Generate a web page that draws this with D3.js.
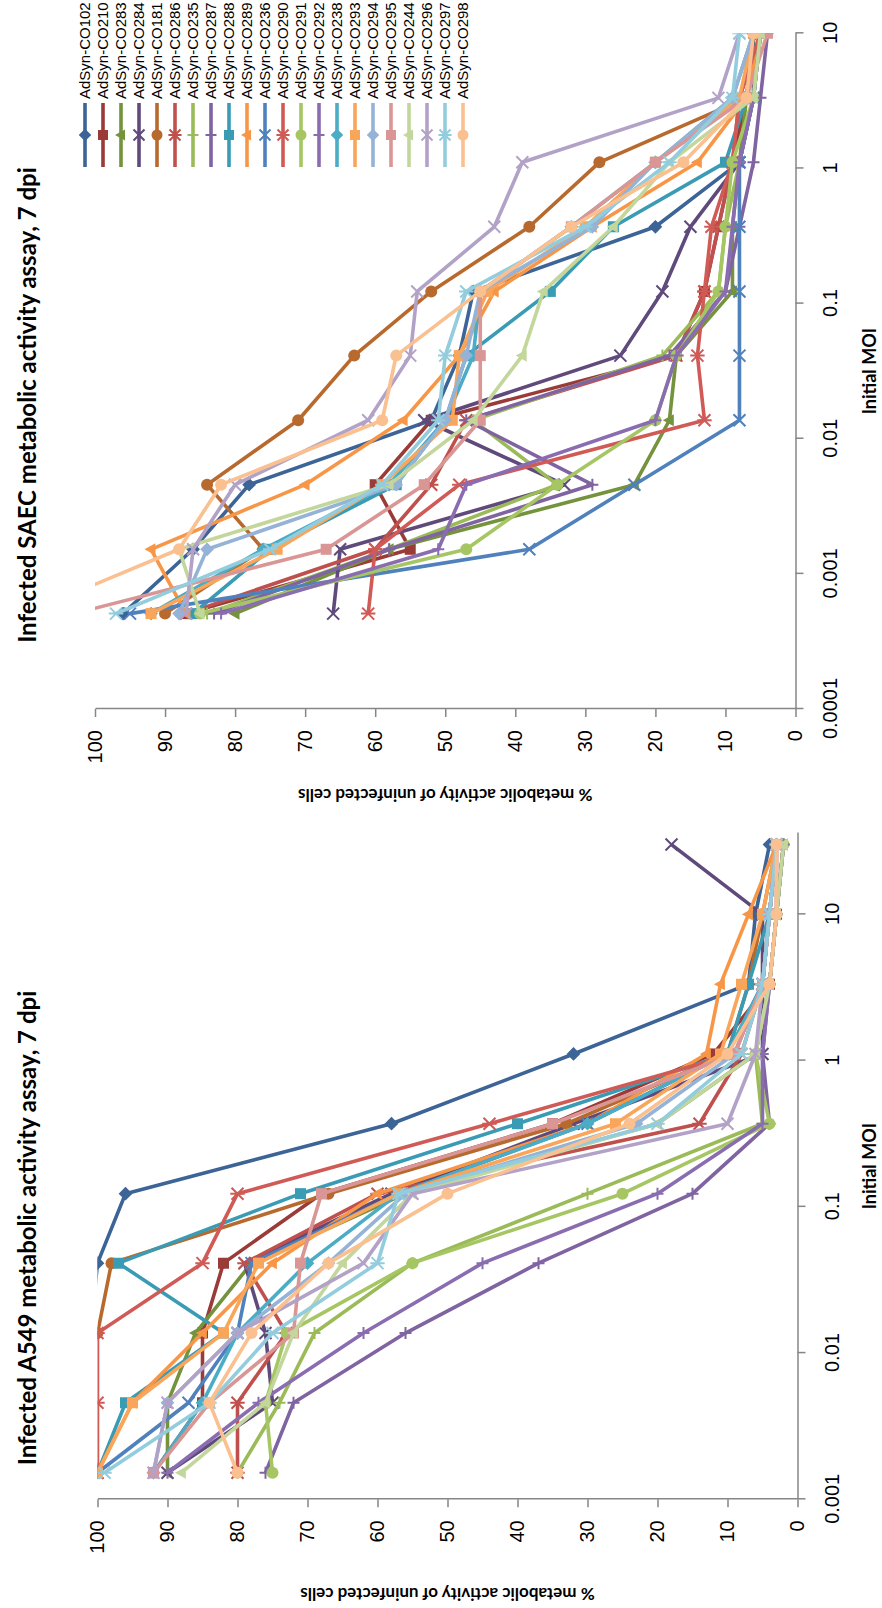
<!DOCTYPE html>
<html>
<head>
<meta charset="utf-8">
<script src="https://cdn.jsdelivr.net/npm/d3@7"></script>
<style>
  body { margin: 0; background: #fff; }
  svg { display: block; }
</style>
</head>
<body>
<svg id="chart" width="882" height="1608"></svg>
<script>
/* ============================================================
   DATA
============================================================ */
const seriesNames = [
  "AdSyn-CO102","AdSyn-CO210","AdSyn-CO283","AdSyn-CO284","AdSyn-CO181","AdSyn-CO286",
  "AdSyn-CO235","AdSyn-CO287","AdSyn-CO288","AdSyn-CO289","AdSyn-CO236","AdSyn-CO290",
  "AdSyn-CO291","AdSyn-CO292","AdSyn-CO238","AdSyn-CO293","AdSyn-CO294","AdSyn-CO295",
  "AdSyn-CO244","AdSyn-CO296","AdSyn-CO297","AdSyn-CO298"
];
const seriesColors = [
  "#3C6496","#9A3B38","#75923C","#5F4A7B","#B86A2E","#C0504D",
  "#9BBB59","#8064A2","#3A9BB5","#F79646","#4F81BD","#D05A56",
  "#A5C663","#8A6DB0","#4BACC6","#F9A55A","#95B3D7","#D99694",
  "#C3D69B","#B3A2C7","#93CDDD","#FAC090"
];
const seriesMarkers = [
  "diamond","square","triangle","x","circle","star",
  "plus","plus","square","triangle","x","star",
  "circle","plus","diamond","square","diamond","square",
  "triangle","x","star","circle"
];

// MOI used in each assay (high to low)
const saecMoi = [10, 3.33, 1.11, 0.37, 0.123, 0.0412, 0.0137, 0.00457, 0.00152, 0.000508];
const a549Moi = [30, 10, 3.33, 1.11, 0.37, 0.123, 0.0412, 0.0137, 0.00457, 0.00152];

// % metabolic activity, one row per series (same order as seriesNames)
const saecValues = [
  [6, 6, 8, 20, 46, 48, 52, 78, 86, 96],
  [6, 7, 9, 11, 13, 17, 52, 60, 55, 87],
  [6, 7, 8, 9, 9, 17, 18, 23, 58, 80],
  [5, 6, 8, 15, 19, 25, 53, 33, 65, 66],
  [5, 7, 28, 38, 52, 63, 71, 84, 76, 90],
  [5, 8, 9, 11, 13, 17, 47, 52, 60, 87],
  [5, 6, 8, 10, 11, 19, 46, 34, 58, 84],
  [4, 5, 6, 8, 10, 18, 47, 29, 58, 83],
  [5, 7, 10, 26, 35, 47, 50, 57, 75, 86],
  [5, 7, 14, 29, 43, 48, 56, 70, 92, 87],
  [5, 6, 8, 8, 8, 8, 8, 23, 38, 95],
  [5, 8, 9, 12, 13, 14, 13, 48, 60, 61],
  [5, 6, 9, 10, 11, 17, 20, 34, 47, 85],
  [5, 6, 8, 9, 10, 17, 20, 47, 51, 82],
  [6, 9, 20, 32, 45, 46, 50, 58, 76, 92],
  [6, 8, 20, 30, 44, 48, 49, 59, 74, 92],
  [6, 9, 20, 29, 45, 47, 50, 57, 84, 88],
  [4, 7, 20, 32, 45, 45, 45, 53, 67, 103],
  [5, 6, 18, 26, 36, 39, 46, 58, 88, 85],
  [8, 11, 39, 43, 54, 55, 61, 80, 86, 87],
  [8, 9, 18, 30, 47, 50, 51, 59, 75, 97],
  [6, 7, 16, 32, 45, 57, 59, 82, 88, 110]
];
const a549Values = [
  [4, 6, 7, 32, 58, 96, 100, 101, 102, 100],
  [3, 3, 4, 12, 35, 68, 82, 85, 85, 92],
  [2, 3, 4, 6, 20, 56, 78, 86, 90, 90],
  [18, 5, 5, 5, 32, 58, 79, 76, 75, 90],
  [3, 5, 7, 10, 33, 67, 98, 100, 103, 104],
  [3, 4, 5, 8, 14, 60, 79, 73, 80, 80],
  [2, 3, 4, 6, 5, 30, 55, 69, 74, 80],
  [2, 3, 4, 5, 4, 15, 37, 56, 72, 76],
  [3, 4, 7, 10, 40, 71, 97, 82, 96, 100],
  [3, 7, 11, 13, 30, 60, 75, 85, 95, 100],
  [3, 4, 5, 10, 30, 57, 78, 80, 87, 100],
  [3, 4, 5, 9, 44, 80, 85, 100, 100, 100],
  [2, 3, 4, 6, 4, 25, 55, 73, 76, 75],
  [2, 3, 4, 5, 5, 20, 45, 62, 77, 90],
  [3, 4, 5, 10, 30, 57, 70, 80, 85, 92],
  [3, 5, 8, 11, 26, 57, 77, 82, 95, 100],
  [3, 4, 5, 9, 23, 56, 67, 80, 90, 92],
  [3, 4, 5, 9, 35, 68, 71, 72, 84, 92],
  [2, 3, 4, 6, 20, 55, 65, 72, 76, 88],
  [3, 4, 5, 6, 10, 55, 62, 80, 90, 92],
  [3, 4, 5, 8, 20, 57, 60, 75, 84, 99],
  [3, 3, 4, 10, 24, 50, 67, 78, 84, 80]
];

const valueTicks = [0, 10, 20, 30, 40, 50, 60, 70, 80, 90, 100];
const saecMoiTicks = [0.0001, 0.001, 0.01, 0.1, 1, 10];
const a549MoiTicks = [0.001, 0.01, 0.1, 1, 10];
const moiTickLabels = { 0.0001: "0.0001", 0.001: "0.001", 0.01: "0.01", 0.1: "0.1", 1: "1", 10: "10" };

const titles = ["Infected A549 metabolic activity assay, 7 dpi", "Infected SAEC metabolic activity assay, 7 dpi"];
const yTitle = "% metabolic activity of uninfected cells";
const xTitle = "Initial MOI";

/* ============================================================
   SETUP: whole figure is drawn landscape, then turned -90deg
============================================================ */
const W = 1608, H = 882;
const svg = d3.select("#chart");
const root = svg.append("g").attr("transform", `translate(0,${W}) rotate(-90)`);
const defs = svg.append("defs");

const AXIS_COLOR = "#868686";
const TICK_FONT = "'Liberation Sans', Arial, sans-serif";
const TITLE_FONT = "Lato, 'Open Sans', sans-serif";

function markerPath(type, s) {
  const r = s / 2;
  switch (type) {
    case "diamond": return `M0,${-r*1.25}L${r*1.25},0L0,${r*1.25}L${-r*1.25},0Z`;
    case "square": return `M${-r},${-r}H${r}V${r}H${-r}Z`;
    case "triangle": return `M0,${-r*1.2}L${r*1.1},${r*0.8}L${-r*1.1},${r*0.8}Z`;
    case "x": return `M${-r},${-r}L${r},${r}M${-r},${r}L${r},${-r}`;
    case "star": return `M${-r},${-r}L${r},${r}M${-r},${r}L${r},${-r}M0,${-r*1.2}V${r*1.2}`;
    case "plus": return `M${-r},0H${r}M0,${-r}V${r}`;
    default: return "";
  }
}
const strokeOnly = t => t === "x" || t === "star" || t === "plus";

function drawMarker(sel, type, color, size) {
  if (type === "circle") {
    sel.append("circle").attr("r", size / 2 + 0.5).attr("fill", color);
  } else if (strokeOnly(type)) {
    sel.append("path").attr("d", markerPath(type, size + 1))
      .attr("fill", "none").attr("stroke", color).attr("stroke-width", 2);
  } else {
    sel.append("path").attr("d", markerPath(type, size)).attr("fill", color);
  }
}

/* ============================================================
   ONE CHART
============================================================ */
function drawChart(opt) {
  const g = root.append("g");
  const x = d3.scaleLog().domain(opt.xDomain).range(opt.xRange);
  const y = d3.scaleLinear().domain([0, 100]).range(opt.yRange);

  const clipId = "clip-" + opt.key;
  defs.append("clipPath").attr("id", clipId)
    .append("rect")
    .attr("x", opt.xRange[0]).attr("y", opt.yRange[1])
    .attr("width", opt.xRange[1] - opt.xRange[0])
    .attr("height", opt.yRange[0] - opt.yRange[1]);

  // axes
  const xAxis = d3.axisBottom(x).tickValues(opt.xTicks)
    .tickFormat(d => moiTickLabels[d]).tickSize(8).tickSizeOuter(0);
  const gx = g.append("g").attr("transform", `translate(0,${opt.yRange[0]})`).call(xAxis);
  gx.select(".domain").attr("stroke", AXIS_COLOR).attr("stroke-width", 1.5);
  gx.selectAll(".tick line").attr("stroke", AXIS_COLOR).attr("stroke-width", 1.5);
  gx.selectAll(".tick text").attr("y", 27).attr("dy", "0.72em")
    .attr("font-family", TICK_FONT).attr("font-size", 20).attr("fill", "#000");

  const yAxis = d3.axisLeft(y).tickValues(valueTicks).tickSize(8).tickSizeOuter(0);
  const gy = g.append("g").attr("transform", `translate(${opt.xRange[0]},0)`).call(yAxis);
  gy.select(".domain").attr("stroke", AXIS_COLOR).attr("stroke-width", 1.5);
  gy.selectAll(".tick line").attr("stroke", AXIS_COLOR).attr("stroke-width", 1.5);
  gy.selectAll(".tick text").attr("x", -21)
    .attr("font-family", TICK_FONT).attr("font-size", 20).attr("fill", "#000");

  // series
  const plot = g.append("g").attr("clip-path", `url(#${clipId})`);
  const line = d3.line().x(d => x(d[0])).y(d => y(d[1]));

  opt.values.forEach((vals, i) => {
    const pts = opt.moi.map((m, j) => [m, vals[j]]);
    plot.append("path").datum(pts)
      .attr("d", line)
      .attr("fill", "none")
      .attr("stroke", seriesColors[i])
      .attr("stroke-width", 3.6)
      .attr("stroke-linejoin", "round");
    pts.forEach(p => {
      const m = plot.append("g").attr("transform", `translate(${x(p[0])},${y(p[1])})`);
      drawMarker(m, seriesMarkers[i], seriesColors[i], 11);
    });
  });

  // titles
  g.append("text")
    .attr("x", opt.titleX).attr("y", 36)
    .attr("text-anchor", "middle")
    .attr("font-family", TITLE_FONT).attr("font-weight", 700).attr("font-size", 24)
    .text(opt.title);

  const xMid = (opt.xRange[0] + opt.xRange[1]) / 2;
  g.append("text")
    .attr("x", xMid).attr("y", 876)
    .attr("text-anchor", "middle")
    .attr("font-family", TITLE_FONT).attr("font-weight", 700).attr("font-size", 18)
    .text(xTitle);

  const yMid = (opt.yRange[0] + opt.yRange[1]) / 2;
  g.append("text")
    .attr("transform", `translate(${opt.yTitleX},${yMid}) rotate(-90)`)
    .attr("text-anchor", "middle")
    .attr("font-family", TITLE_FONT).attr("font-weight", 700).attr("font-size", 17)
    .text(yTitle);
}

drawChart({
  key: "a549",
  xDomain: [0.001, 36], xRange: [108.7, 775],
  yRange: [797.5, 97.5],
  xTicks: a549MoiTicks, moi: a549Moi, values: a549Values,
  title: titles[0], titleX: 380, yTitleX: 20
});

drawChart({
  key: "saec",
  xDomain: [0.0001, 10], xRange: [899, 1574.7],
  yRange: [795.5, 95],
  xTicks: saecMoiTicks, moi: saecMoi, values: saecValues,
  title: titles[1], titleX: 1203, yTitleX: 819
});

/* ============================================================
   LEGEND (right of the SAEC chart)
============================================================ */
const legend = root.append("g");
seriesNames.forEach((name, i) => {
  const ly = 85 + i * 18;
  const item = legend.append("g").attr("transform", `translate(1441,${ly})`);
  item.append("line").attr("x1", 0).attr("x2", 64).attr("y1", 0).attr("y2", 0)
    .attr("stroke", seriesColors[i]).attr("stroke-width", 3.6);
  drawMarker(item.append("g").attr("transform", "translate(32,0)"), seriesMarkers[i], seriesColors[i], 10);
  item.append("text").attr("x", 68).attr("y", 0).attr("dy", "0.35em")
    .attr("font-family", TICK_FONT).attr("font-size", 15).attr("fill", "#000")
    .text(name);
});
</script>
</body>
</html>
